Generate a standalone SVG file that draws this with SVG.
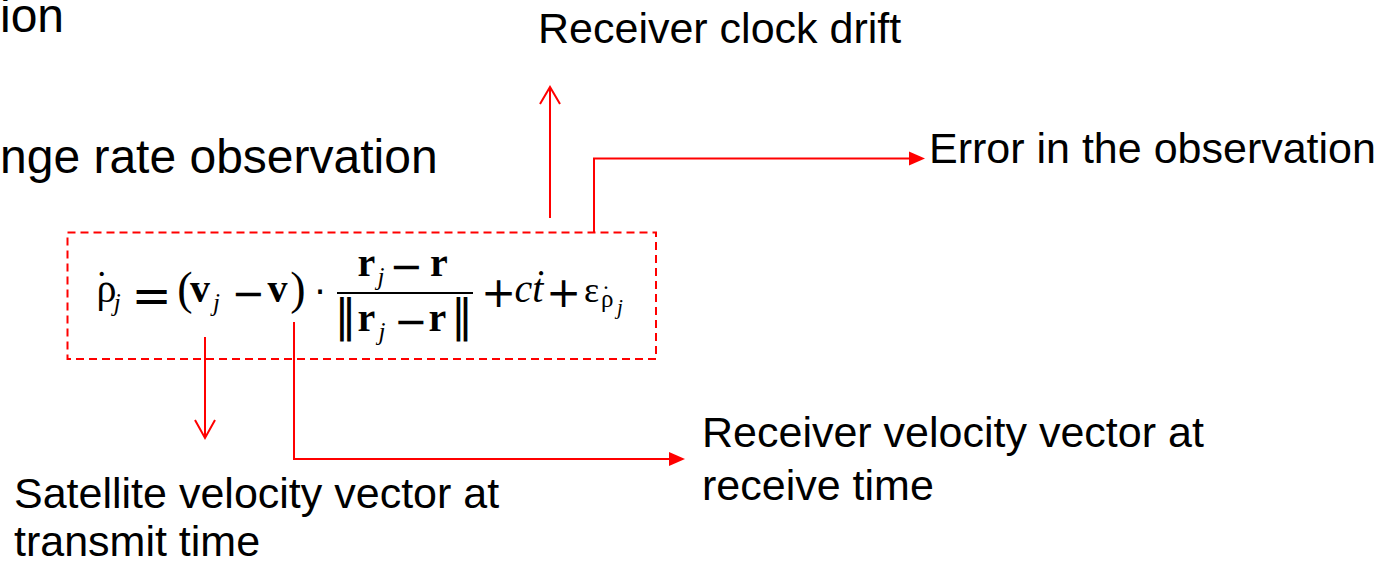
<svg xmlns="http://www.w3.org/2000/svg" width="1391" height="564" viewBox="0 0 1391 564">
<style>
.lbl{font-family:"Liberation Sans",Arial,sans-serif;font-size:43px;fill:#000}
.big{font-size:48px}
.eq{font-family:"Liberation Serif","Times New Roman",serif;fill:#000;text-anchor:middle}
.eqs{font-family:"Liberation Serif","Times New Roman",serif;fill:#000}
.op{font-family:"DejaVu Sans",sans-serif;fill:#000;text-anchor:middle}
.m{font-size:40px}
.b{font-weight:bold}
.i{font-style:italic}
.s{font-size:25px}
.ss{font-size:21px}
.conn{stroke:#FF0000;stroke-width:2;fill:none}
.head{fill:#FF0000;stroke:none}
</style>
<rect width="1391" height="564" fill="#fff"/>

<g id="title">
<text class="lbl big" x="0" y="32">ion</text>
<text class="lbl big" x="0" y="173">nge rate observation</text>
</g>

<g id="equation">
<rect x="67.5" y="232.5" width="588.5" height="126.5" fill="none" stroke="#FF0000" stroke-width="2" stroke-dasharray="8 5"/>
<text class="eqs m" x="95" y="302">ρ<tspan dx="-21.5" dy="-4">˙</tspan><tspan class="s i" dx="5.5" dy="13">j</tspan></text>
<text class="op" font-size="48" x="151.5" y="312">=</text>
<text class="eq" font-size="46" x="185" y="304">(</text>
<text class="eq m b" x="200" y="302">v</text>
<text class="eq s i" x="216.5" y="311">j</text>
<text class="op" font-size="40" x="248.5" y="307">−</text>
<text class="eq m b" x="277.5" y="302">v</text>
<text class="eq" font-size="46" x="298" y="304">)</text>
<text class="op" font-size="36" x="320" y="304">⋅</text>
<text class="eq m b" x="366.5" y="276">r</text>
<text class="eq s i" x="381" y="285">j</text>
<text class="op" font-size="40" x="406.5" y="280">−</text>
<text class="eq m b" x="439" y="276">r</text>
<line x1="337" y1="293" x2="473" y2="293" stroke="#000" stroke-width="2"/>
<text class="op" font-size="44" x="345.5" y="331">‖</text>
<text class="eq m b" x="366.5" y="331">r</text>
<text class="eq s i" x="382" y="340">j</text>
<text class="op" font-size="40" x="411" y="335">−</text>
<text class="eq m b" x="437.5" y="331">r</text>
<text class="op" font-size="44" x="462" y="331">‖</text>
<text class="op" font-size="42" x="498.5" y="307">+</text>
<text class="eq m i" x="529" y="302">cṫ</text>
<text class="op" font-size="42" x="563.5" y="307">+</text>
<text class="eq" font-size="36" x="591.5" y="302">ε</text>
<text class="eqs s" x="601" y="307">ρ<tspan dx="-11.7" dy="-4">˙</tspan><tspan class="ss i" dx="7" dy="11">j</tspan></text>
</g>

<g id="clock-drift">
<text class="lbl" x="538" y="43">Receiver clock drift</text>
</g>
<g id="error">
<text class="lbl" x="929" y="163">Error in the observation</text>
</g>
<g id="receiver-velocity">
<text class="lbl" x="702" y="447">Receiver velocity vector at</text>
<text class="lbl" x="702" y="500">receive time</text>
</g>
<g id="satellite-velocity">
<text class="lbl" x="14" y="508">Satellite velocity vector at</text>
<text class="lbl" x="14" y="556">transmit time</text>
</g>

<g id="connectors">
<line class="conn" x1="550" y1="218" x2="550" y2="88"/>
<polyline class="conn" points="540,104 550,87 560,104"/>
<polyline class="conn" points="594,232 594,158.5 910,158.5"/>
<polygon class="head" points="909,151.5 925,158.5 909,165.5"/>
<line class="conn" x1="205" y1="337" x2="205" y2="437"/>
<polyline class="conn" points="195,420 205,438 215,420"/>
<polyline class="conn" points="294,322 294,459 670,459"/>
<polygon class="head" points="669,452 685,459 669,466"/>
</g>
</svg>
